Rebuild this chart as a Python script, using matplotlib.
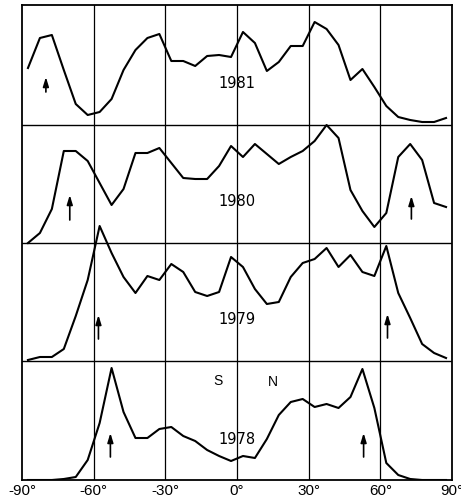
import numpy as np
import matplotlib
matplotlib.use('Agg')
import matplotlib.pyplot as plt

# latitude bin centres, 5 degree bins
lat = np.arange(-87.5, 90, 5)

years = ['1978', '1979', '1980', '1981']

y1981 = [57, 87, 90, 55, 21, 10, 13, 26, 55, 75, 87, 91, 64, 64, 59, 69, 70, 68,
         93, 82, 54, 63, 79, 79, 103, 96, 80, 45, 56, 38, 19, 8, 5, 3, 3, 7]
y1980 = [0, 10, 34, 92, 92, 82, 60, 38, 54, 90, 90, 95, 80, 65, 64, 64, 77, 97,
         86, 99, 89, 79, 86, 92, 102, 118, 105, 53, 32, 16, 30, 86, 99, 83, 40, 36]
y1979 = [1, 4, 4, 12, 45, 81, 135, 108, 84, 68, 85, 81, 97, 89, 69, 65, 69, 104,
         94, 72, 57, 59, 84, 98, 102, 113, 94, 106, 89, 85, 115, 68, 43, 17, 8, 3]
y1978 = [0, 0, 0, 1, 3, 20, 57, 112, 68, 42, 42, 51, 53, 44, 39, 30, 24, 19,
         24, 22, 41, 65, 78, 81, 73, 76, 72, 83, 111, 72, 17, 5, 1, 0, 0, 0]
series = [y1978, y1979, y1980, y1981]

# arrows: (latitude, bottom, top) per year
arrows = {'1978': [(-53, 23, 47), (53, 23, 47)],
          '1979': [(-58, 22, 46), (63, 23, 47)],
          '1980': [(-70, 23, 48), (73, 24, 47)],
          '1981': [(-80, 33, 48)]}

# panel bottoms in the shared axis (pixel-ish units)
base = [0, 119, 237, 355]
top = 475

fig = plt.figure(figsize=(4.61, 5.0), dpi=100)
ax = fig.add_axes([22 / 461, 20 / 500, 430 / 461, 475 / 500])
ax.set_xlim(-90, 90)
ax.set_ylim(0, top)

for x in [-60, -30, 0, 30, 60]:
    ax.axvline(x, color='black', lw=0.9, zorder=1)
for b in base[1:]:
    ax.axhline(b, color='black', lw=1.0, zorder=1)

for i, yr in enumerate(years):
    b = base[i]
    ax.plot(lat, np.array(series[i]) + b, color='black', lw=1.5, zorder=3)
    ax.text(0, b + 41, yr, ha='center', va='center', fontsize=10.5,
            family=['Liberation Sans Narrow', 'DejaVu Sans'], zorder=4)
    for a, lo, hi in arrows[yr]:
        ax.annotate('', xy=(a, b + hi), xytext=(a, b + lo),
                    arrowprops=dict(arrowstyle='-|>,head_length=0.55,head_width=0.17',
                                    color='black', lw=1.2, shrinkA=0, shrinkB=0))

ax.text(-8, 99, 'S', ha='center', va='center', fontsize=10,
        family=['Liberation Sans', 'DejaVu Sans'])
ax.text(15, 98, 'N', ha='center', va='center', fontsize=10,
        family=['Liberation Sans', 'DejaVu Sans'])

ax.set_yticks([])
ax.set_xticks([-90, -60, -30, 0, 30, 60, 90])
ax.set_xticklabels(['-90°', '-60°', '-30°', '0°', '30°', '60°', '90°'],
                   fontsize=11, family=['Liberation Sans', 'DejaVu Sans'])
ax.tick_params(axis='x', length=0, pad=3)
for s in ax.spines.values():
    s.set_linewidth(1.3)

plt.savefig('out.png', dpi=100)
